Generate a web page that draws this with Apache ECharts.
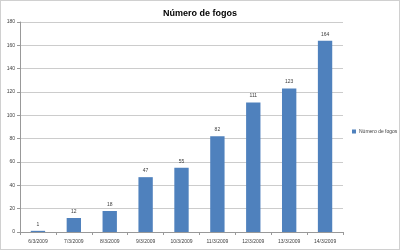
<!DOCTYPE html>
<html><head><meta charset="utf-8">
<script src="https://cdn.jsdelivr.net/npm/echarts@6/dist/echarts.min.js"></script>
<style>html,body{margin:0;padding:0;background:#fff}#c{width:400px;height:250px;box-sizing:border-box;border:1px solid #d0d0d0}</style>
</head><body><div id="c"></div>
<script>
const categories = ['6/3/2009','7/3/2009','8/3/2009','9/3/2009','10/3/2009','11/3/2009','12/3/2009','13/3/2009','14/3/2009'];
const values = [1,12,18,47,55,82,111,123,164];
const seriesName = 'Número de fogos';
const chart = echarts.init(document.getElementById('c'), null, {renderer:'canvas'});
chart.setOption({
  animation:false,
  title:{text:'Número de fogos', left:'center', top:3, textStyle:{fontSize:9, fontWeight:'bold', color:'#000', fontFamily:'Liberation Sans'}},
  legend:{orient:'vertical', left:351, top:128, padding:0, itemWidth:4, itemHeight:4, icon:'rect', textStyle:{fontSize:5, color:'#404040', fontFamily:'Liberation Sans', padding:[0,0,0,-2]}, itemGap:2},
  grid:{left:19, right:56, top:21, bottom:17},
  xAxis:{type:'category', data:categories, axisLine:{lineStyle:{color:'#999'}}, axisTick:{show:true, alignWithLabel:false, length:3, lineStyle:{color:'#999'}}, axisLabel:{fontSize:5, color:'#404040', margin:7, interval:0, fontFamily:'Liberation Sans'}},
  yAxis:{type:'value', min:0, max:180, interval:20, axisLine:{show:true, lineStyle:{color:'#999'}}, axisTick:{show:true, length:3, lineStyle:{color:'#999'}}, splitLine:{lineStyle:{color:'#ccc'}}, axisLabel:{fontSize:5, color:'#404040', margin:5, fontFamily:'Liberation Sans'}},
  series:[{name:seriesName, type:'bar', data:values, barWidth:'40%', itemStyle:{color:'#4F81BD'}, label:{show:true, position:'top', fontSize:5, color:'#404040', distance:4, fontFamily:'Liberation Sans'}}]
});
</script></body></html>
